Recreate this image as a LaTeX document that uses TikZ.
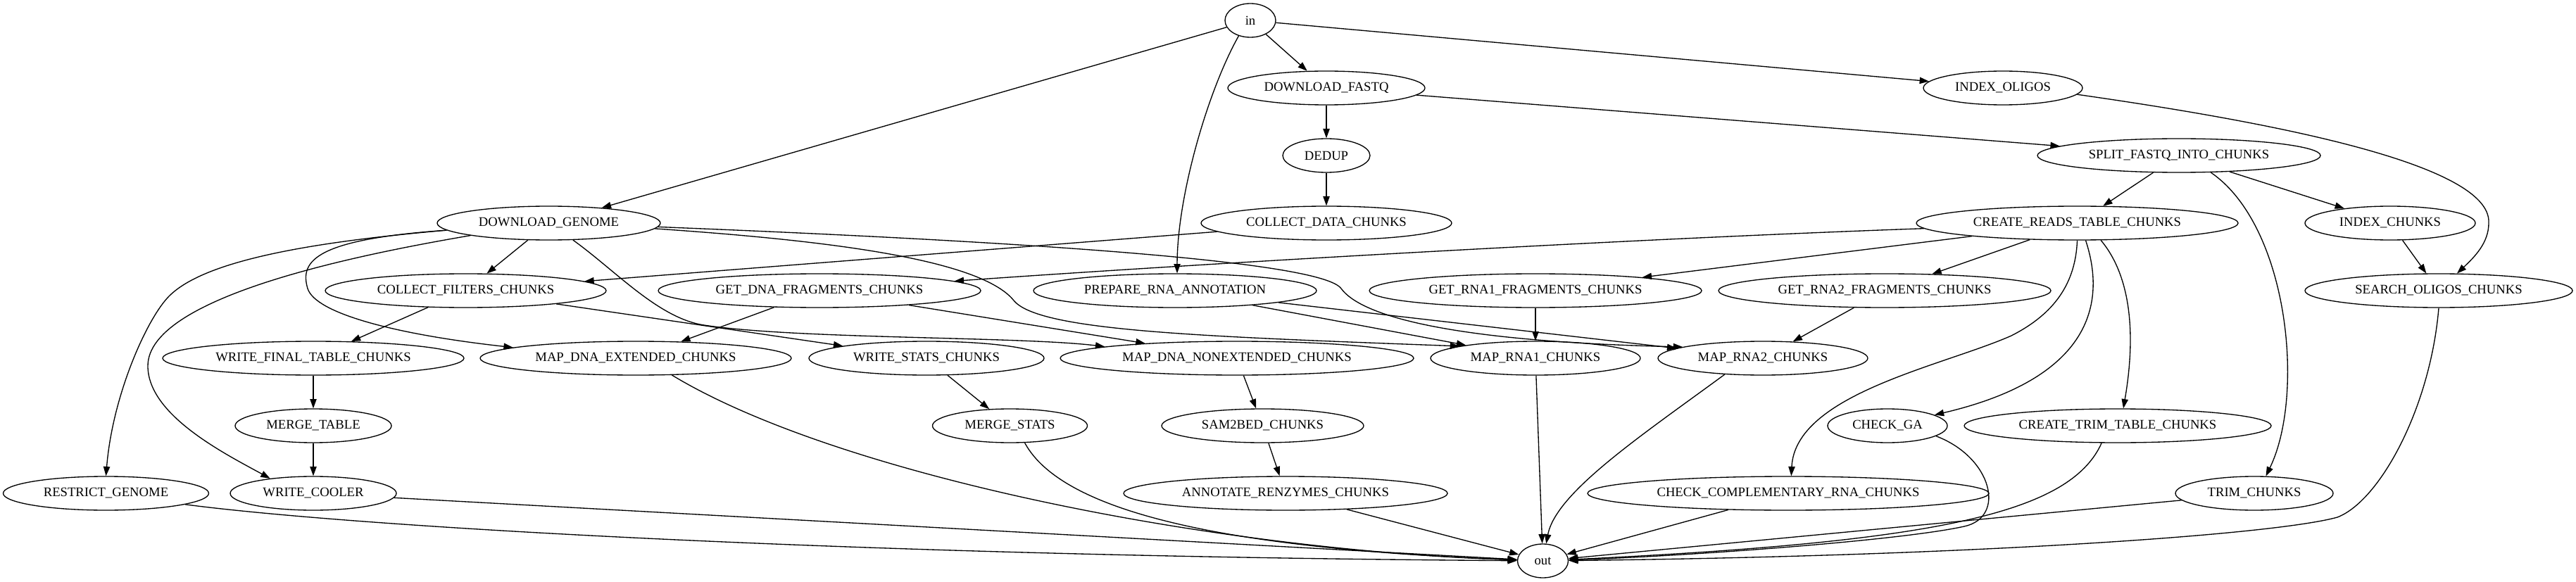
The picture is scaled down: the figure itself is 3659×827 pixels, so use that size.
\documentclass[tikz,border=0pt]{standalone}
\usepackage{fontspec}
\setmainfont{Liberation Serif}
\usetikzlibrary{arrows.meta,shapes.geometric}
\begin{document}
\begin{tikzpicture}[x=0.75pt,y=-0.75pt,
  nd/.style={draw, ellipse, inner sep=0pt, minimum height=36pt, line width=1pt, font=\fontsize{14pt}{16pt}\selectfont},
  ed/.style={draw, line width=1pt, -{Triangle[length=10pt,width=7pt]}}]
\useasboundingbox (0,0) rectangle (3659,827);
% nodes
\node[nd, minimum width=54pt] (in) at (1776,29) {in};
\node[nd, minimum width=210pt] (df) at (1884,125) {DOWNLOAD\_FASTQ};
\node[nd, minimum width=169.5pt] (io) at (2845,125) {INDEX\_OLIGOS};
\node[nd, minimum width=93pt] (dedup) at (1884,221) {DEDUP};
\node[nd, minimum width=301.5pt] (split) at (3095,221) {SPLIT\_FASTQ\_INTO\_CHUNKS};
\node[nd, minimum width=237.75pt] (dg) at (779.5,317) {DOWNLOAD\_GENOME};
\node[nd, minimum width=267pt] (cd) at (1884,317) {COLLECT\_DATA\_CHUNKS};
\node[nd, minimum width=342.75pt] (crt) at (2950.5,317) {CREATE\_READS\_TABLE\_CHUNKS};
\node[nd, minimum width=181.5pt] (ic) at (3395,317) {INDEX\_CHUNKS};
\node[nd, minimum width=299.25pt] (cfc) at (661.5,413) {COLLECT\_FILTERS\_CHUNKS};
\node[nd, minimum width=343.5pt] (gdf) at (1164,413) {GET\_DNA\_FRAGMENTS\_CHUNKS};
\node[nd, minimum width=301.5pt] (pra) at (1669,413) {PREPARE\_RNA\_ANNOTATION};
\node[nd, minimum width=354pt] (gr1) at (2181,413) {GET\_RNA1\_FRAGMENTS\_CHUNKS};
\node[nd, minimum width=354pt] (gr2) at (2677,413) {GET\_RNA2\_FRAGMENTS\_CHUNKS};
\node[nd, minimum width=285pt] (so) at (3464,413) {SEARCH\_OLIGOS\_CHUNKS};
\node[nd, minimum width=321pt] (wft) at (445,509) {WRITE\_FINAL\_TABLE\_CHUNKS};
\node[nd, minimum width=331.5pt] (mde) at (903,509) {MAP\_DNA\_EXTENDED\_CHUNKS};
\node[nd, minimum width=250.5pt] (ws) at (1316,509) {WRITE\_STATS\_CHUNKS};
\node[nd, minimum width=376.5pt] (mdn) at (1757,509) {MAP\_DNA\_NONEXTENDED\_CHUNKS};
\node[nd, minimum width=223.5pt] (mr1) at (2181,509) {MAP\_RNA1\_CHUNKS};
\node[nd, minimum width=223.5pt] (mr2) at (2504,509) {MAP\_RNA2\_CHUNKS};
\node[nd, minimum width=166.5pt] (mt) at (445,605) {MERGE\_TABLE};
\node[nd, minimum width=165pt] (ms) at (1434.5,605) {MERGE\_STATS};
\node[nd, minimum width=215.25pt] (s2b) at (1793.5,605) {SAM2BED\_CHUNKS};
\node[nd, minimum width=127.5pt] (cga) at (2681,605) {CHECK\_GA};
\node[nd, minimum width=327pt] (ctt) at (3008,605) {CREATE\_TRIM\_TABLE\_CHUNKS};
\node[nd, minimum width=219pt] (rg) at (150.5,701) {RESTRICT\_GENOME};
\node[nd, minimum width=177pt] (wc) at (445,701) {WRITE\_COOLER};
\node[nd, minimum width=345pt] (ar) at (1826,701) {ANNOTATE\_RENZYMES\_CHUNKS};
\node[nd, minimum width=427.5pt] (ccr) at (2540,701) {CHECK\_COMPLEMENTARY\_RNA\_CHUNKS};
\node[nd, minimum width=168pt] (trim) at (3202,701) {TRIM\_CHUNKS};
\node[nd, minimum width=54pt] (out) at (2191.5,797) {out};
% edges from in
\draw[ed] (in) -- (dg);
\draw[ed] (in) -- (df);
\draw[ed] (in) -- (io);
\draw[ed] (in.233) .. controls (1715,130) and (1672,280) .. (pra.83);
\draw[ed] (df) -- (dedup);
\draw[ed] (df) -- (split);
\draw[ed] (dedup) -- (cd);
\draw[ed] (cd) -- (cfc);
\draw[ed] (io.-5.5) .. controls (3200,170) and (3540,230) .. (3535,317) .. controls (3535,345) and (3515,365) .. (so);
\draw[ed] (split) -- (crt);
\draw[ed] (split) -- (ic);
\draw[ed] (split.-28) .. controls (3250,320) and (3275,560) .. (trim.56);
\draw[ed] (ic) -- (so);
% DOWNLOAD_GENOME
\draw[ed] (dg) -- (cfc);
\draw[ed] (dg.184.4) .. controls (430,345) and (290,372) .. (241,420) .. controls (210,450) and (160,560) .. (rg.90);
\draw[ed] (dg.189) .. controls (520,360) and (210,420) .. (210,520) .. controls (210,590) and (320,645) .. (wc.161);
\draw[ed] (dg.184.4) .. controls (450,340) and (425,370) .. (437,410) .. controls (448,445) and (560,475) .. (mde.175);
\draw[ed] (dg.-35) .. controls (875,385) and (935,452) .. (1000,462) .. controls (1130,482) and (1450,478) .. (mdn.175.4);
\draw[ed] (dg.-3) .. controls (1150,340) and (1390,365) .. (1440,427) .. controls (1475,470) and (1700,478) .. (mr1.171);
\draw[ed] (dg.-2) .. controls (1500,345) and (1878,373) .. (1905,410) .. controls (1932,447) and (2050,485) .. (mr2.172.3);
% middle
\draw[ed] (cfc) -- (wft);
\draw[ed] (cfc) -- (ws);
\draw[ed] (crt) .. controls (2300,340) and (1700,375) .. (gdf);
\draw[ed] (crt) -- (gr1);
\draw[ed] (crt) -- (gr2);
\draw[ed] (crt.-90) .. controls (2948,410) and (2910,450) .. (2857,477) .. controls (2760,520) and (2550,560) .. (ccr.80);
\draw[ed] (crt.-64) .. controls (2995,440) and (2960,540) .. (cga.13.4);
\draw[ed] (crt.-36) .. controls (3025,390) and (3035,470) .. (ctt.72);
\draw[ed] (gdf) -- (mde);
\draw[ed] (gdf) -- (mdn);
\draw[ed] (pra) -- (mr1);
\draw[ed] (pra) -- (mr2);
\draw[ed] (gr1) -- (mr1);
\draw[ed] (gr2) -- (mr2);
\draw[ed] (wft) -- (mt);
\draw[ed] (mt) -- (wc);
\draw[ed] (ws) -- (ms);
\draw[ed] (mdn) -- (s2b);
\draw[ed] (s2b) -- (ar);
% to out
\draw[ed] (rg.-8.6) .. controls (500,748) and (1200,790) .. (out);
\draw[ed] (wc) -- (out);
\draw[ed] (mde.-25) .. controls (1180,670) and (1700,780) .. (out);
\draw[ed] (ms.-49) .. controls (1510,730) and (1750,780) .. (out);
\draw[ed] (ar) -- (out);
\draw[ed] (mr1) -- (out);
\draw[ed] (mr2.203) .. controls (2330,620) and (2210,700) .. (out);
\draw[ed] (ccr) -- (out);
\draw[ed] (cga.-12) .. controls (2830,650) and (2850,735) .. (2790,748) .. controls (2700,768) and (2400,790) .. (out);
\draw[ed] (ctt.227) .. controls (2940,730) and (2750,770) .. (out);
\draw[ed] (trim) -- (out);
\draw[ed] (so.south) .. controls (3452,580) and (3380,712) .. (3320,735) .. controls (3230,760) and (2800,790) .. (out);
\end{tikzpicture}
\end{document}
